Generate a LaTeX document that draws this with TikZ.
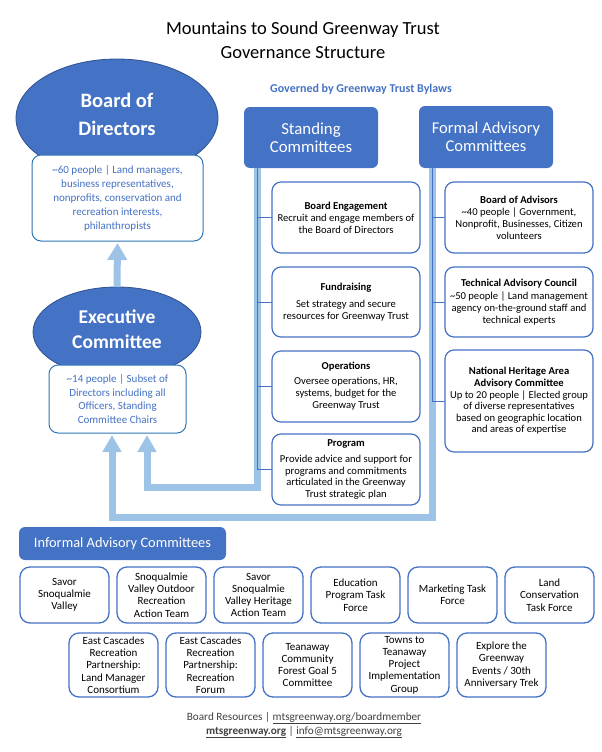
\documentclass[tikz,border=0pt]{standalone}
\usepackage{fontspec}
\setmainfont{Carlito}
\usetikzlibrary{arrows.meta,shapes.geometric}
\definecolor{hdr}{HTML}{4472C4}
\definecolor{hdrdark}{HTML}{2F528F}
\definecolor{lb}{HTML}{9DC3E6}
\definecolor{infob}{HTML}{2E75B6}
\definecolor{foot}{HTML}{404040}
\newcommand{\myfs}[2]{\fontsize{#1}{#2}\selectfont}
\begin{document}
\begin{tikzpicture}[x=1pt,y=-1pt,
  every node/.style={inner sep=0pt, outer sep=0pt},
  ellip/.style={ellipse, fill=hdr, draw=hdrdark, line width=0.8pt},
  elltxt/.style={text=white, font={\bfseries\myfs{20.5}{28}}, align=center},
  hdrbox/.style={rectangle, rounded corners=6pt, fill=hdr, text=white, align=center},
  infobox/.style={rectangle, rounded corners=9pt, draw=infob, fill=white, line width=1pt, text=hdr, align=center, font={\myfs{11}{14}}},
  itembox/.style={rectangle, rounded corners=9pt, draw=hdr, fill=white, line width=1.2pt, align=center, font={\myfs{10.6}{12}}, minimum width=148pt},
  smallbox/.style={rectangle, rounded corners=10pt, draw=hdr, fill=white, line width=1.3pt, align=center, font={\myfs{11}{12.3}}, minimum width=89pt},
  bigarrow/.style={draw=lb, line width=7pt, line join=miter, -{Triangle[width=18pt,length=17pt]}},
  tree/.style={draw=hdr, line width=0.9pt},
]
\useasboundingbox (0,0) rectangle (602,752);

% Title
\node[align=center, font={\myfs{18.5}{24}}] (title) at (303,40) {Mountains to Sound Greenway Trust\\Governance Structure};
\node[text=hdr, font={\bfseries\myfs{12}{14}}] (bylaws) at (361,89) {Governed by Greenway Trust Bylaws};

% Board of Directors
\node[ellip, minimum width=202pt, minimum height=118pt] (bod) at (117,118) {};
\node[elltxt] (bodtxt) at (117,114) {Board of\\Directors};
\node[infobox, minimum width=171pt, minimum height=86pt] (bodbox) at (117.5,198) {\textasciitilde60 people | Land managers,\\business representatives,\\nonprofits, conservation and\\recreation interests,\\philanthropists};

% Executive Committee
\node[ellip, minimum width=168pt, minimum height=90pt] (exec) at (117,332) {};
\node[elltxt, font={\bfseries\myfs{19.5}{25}}] (exectxt) at (117,329.5) {Executive\\Committee};
\node[infobox, minimum width=137pt, minimum height=68pt, font={\myfs{11}{13.6}}] (execbox) at (117.5,399) {\textasciitilde14 people | Subset of\\Directors including all\\Officers, Standing\\Committee Chairs};

% Headers
\node[hdrbox, minimum width=134pt, minimum height=61pt, font={\myfs{16.8}{17.5}}] (stand) at (311,137.5) {Standing\\Committees};
\node[hdrbox, minimum width=134pt, minimum height=62pt, font={\myfs{16.5}{18}}] (form) at (486,137) {Formal Advisory\\Committees};

% Standing committee boxes
\node[itembox, minimum height=71pt] (sb1) at (346,217.5) {\textbf{Board Engagement}\\Recruit and engage members of\\the Board of Directors};
\node[itembox, minimum height=70pt] (sb2) at (346,302) {\textbf{Fundraising}\\[5pt]Set strategy and secure\\resources for Greenway Trust};
\node[itembox, minimum height=71pt] (sb3) at (346,386.5) {\textbf{Operations}\\[3pt]Oversee operations, HR,\\systems, budget for the\\Greenway Trust};
\node[itembox, minimum height=71pt, font={\myfs{10.6}{11.7}}] (sb4) at (346,469.5) {\textbf{Program}\\[4pt]Provide advice and support for\\programs and commitments\\articulated in the Greenway\\Trust strategic plan};

% Formal advisory boxes
\node[itembox, minimum height=71pt] (fb1) at (519,217.5) {\textbf{Board of Advisors}\\\textasciitilde40 people | Government,\\Nonprofit, Businesses, Citizen\\volunteers};
\node[itembox, minimum height=70pt] (fb2) at (519,302) {\textbf{Technical Advisory Council}\\[1pt]\textasciitilde50 people | Land management\\agency on-the-ground staff and\\technical experts};
\node[itembox, minimum height=102pt, font={\myfs{10.6}{11.6}}] (fb3) at (519,401) {\textbf{National Heritage Area}\\\textbf{Advisory Committee}\\Up to 20 people | Elected group\\of diverse representatives\\based on geographic location\\and areas of expertise};

% Informal advisory
\node[hdrbox, minimum width=207pt, minimum height=33pt, font={\myfs{14.4}{16}}] (inf) at (122.5,543.5) {Informal Advisory Committees};

\node[smallbox, minimum height=56pt] (r1a) at (64.5,595) {Savor\\Snoqualmie\\Valley};
\node[smallbox, minimum height=56pt] (r1b) at (161.5,595) {Snoqualmie\\Valley Outdoor\\Recreation\\Action Team};
\node[smallbox, minimum height=56pt] (r1c) at (258.5,595) {Savor\\Snoqualmie\\Valley Heritage\\Action Team};
\node[smallbox, minimum height=56pt] (r1d) at (355.5,595) {Education\\Program Task\\Force};
\node[smallbox, minimum height=56pt] (r1e) at (452.5,595) {Marketing Task\\Force};
\node[smallbox, minimum height=56pt] (r1f) at (549.5,595) {Land\\Conservation\\Task Force};

\node[smallbox, minimum height=64pt] (r2a) at (113.5,665) {East Cascades\\Recreation\\Partnership:\\Land Manager\\Consortium};
\node[smallbox, minimum height=64pt] (r2b) at (210.5,665) {East Cascades\\Recreation\\Partnership:\\Recreation\\Forum};
\node[smallbox, minimum height=64pt] (r2c) at (307.5,665) {Teanaway\\Community\\Forest Goal 5\\Committee};
\node[smallbox, minimum height=64pt] (r2d) at (404.5,665) {Towns to\\Teanaway\\Project\\Implementation\\Group};
\node[smallbox, minimum height=64pt] (r2e) at (501.5,665) {Explore the\\Greenway\\Events / 30th\\Anniversary Trek};

% Footer
\node[align=center, text=foot, font={\myfs{11.2}{14}}] (footer) at (304,725) {Board Resources | \underline{mtsgreenway.org/boardmember}\\\underline{\textbf{mtsgreenway.org}} | \underline{info@mtsgreenway.org}};

% Connectors
\coordinate (sbend) at (257,487);
\coordinate (sbend2) at (147,487);
\coordinate (fbend) at (432,517);
\coordinate (fbend2) at (112,517);
\draw[bigarrow, -{Triangle[width=19pt,length=17pt]}] (exec.north) -- ([yshift=-2pt]bodbox.south);
\draw[bigarrow] ([xshift=-54pt]stand.south) -- (sbend) -- (sbend2) -- ([xshift=29.5pt,yshift=-2pt]execbox.south);
\draw[bigarrow] ([xshift=-54pt]form.south) -- (fbend) -- (fbend2) -- ([xshift=-5.5pt,yshift=-2pt]execbox.south);

\draw[tree] (sb1.west) -| ([xshift=-54pt]stand.south);
\draw[tree] (sb2.west) -| ([xshift=-54pt]stand.south);
\draw[tree] (sb3.west) -| ([xshift=-54pt]stand.south);
\draw[tree] (sb4.west) -| ([xshift=-54pt]stand.south);
\draw[tree] (fb1.west) -| ([xshift=-54pt]form.south);
\draw[tree] (fb2.west) -| ([xshift=-54pt]form.south);
\draw[tree] (fb3.west) -| ([xshift=-54pt]form.south);
\end{tikzpicture}
\end{document}
